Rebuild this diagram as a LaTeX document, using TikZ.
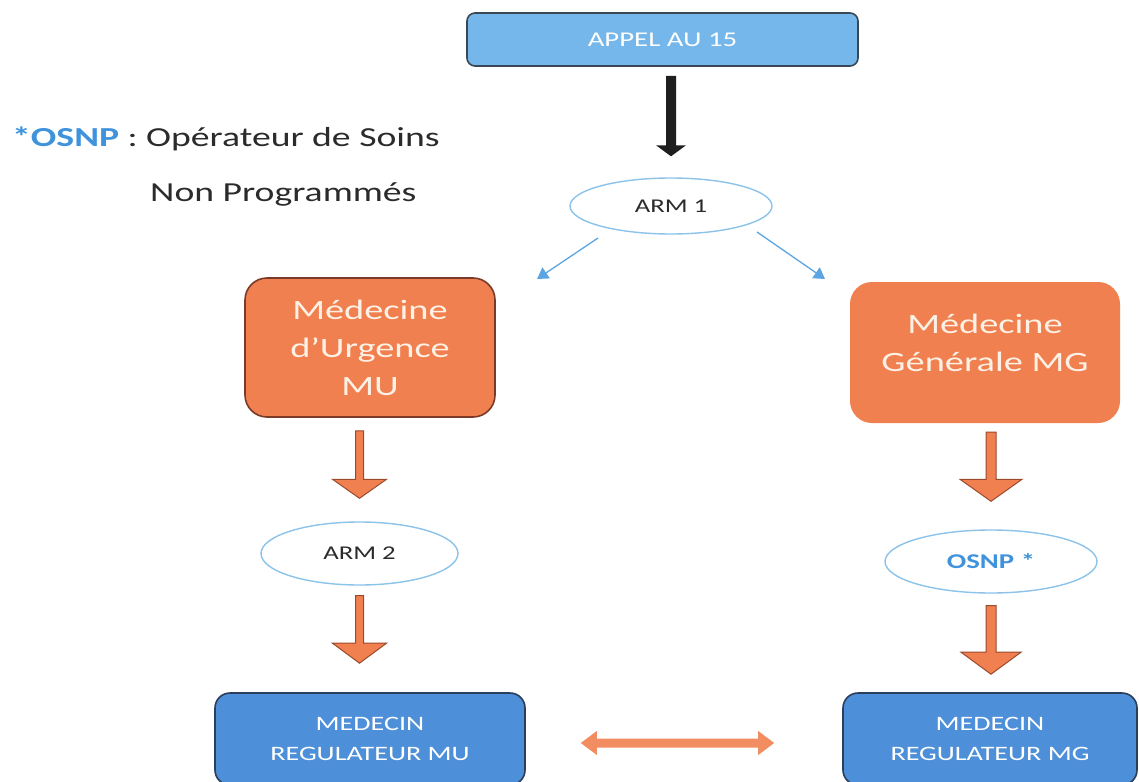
\documentclass[tikz,border=0pt]{standalone}
\usepackage{fontspec}
\setmainfont{Carlito}[FakeStretch=1.37]
\usetikzlibrary{shapes.geometric,calc,arrows.meta}
\definecolor{appelfill}{HTML}{75B7EA}
\definecolor{appeldraw}{HTML}{3A4855}
\definecolor{orfill}{HTML}{F0804F}
\definecolor{ordraw}{HTML}{7B3A28}
\definecolor{orline}{HTML}{9B4A2E}
\definecolor{botfill}{HTML}{4D8FD8}
\definecolor{botdraw}{HTML}{2B3E5C}
\definecolor{ellline}{HTML}{8CC3EA}
\definecolor{osnpblue}{HTML}{3F93DC}
\definecolor{cream}{HTML}{FDF1E6}
\definecolor{txt}{HTML}{2B2B2B}
\definecolor{thinblue}{HTML}{5BA6E2}
\newcommand\blockdown[6]{%
  \path[#1] let \p1=#2, \p2=#3 in
   (\x2-#4,\y1) -- (\x2-#4,\y2+#6) -- (\x2-#5,\y2+#6) -- (\x2,\y2) --
   (\x2+#5,\y2+#6) -- (\x2+#4,\y2+#6) -- (\x2+#4,\y1) -- cycle;}
\tikzset{
  bluebox/.style={rectangle, rounded corners=8pt, fill=appelfill, draw=appeldraw, line width=1.6pt, text=white, font=\fontsize{21}{24}\selectfont},
  orbox/.style={rectangle, rounded corners=22pt, fill=orfill, text=cream, align=center, font=\fontsize{28}{38}\selectfont},
  botbox/.style={rectangle, rounded corners=15pt, fill=botfill, draw=botdraw, line width=1.6pt, text=white, align=center, font=\fontsize{20.5}{30}\selectfont},
  ell/.style={ellipse, draw=ellline, line width=1.4pt, fill=white, text=txt, font=\fontsize{19.5}{22}\selectfont},
  orarrow/.style={fill=orfill, draw=orline, line width=1pt, line join=miter},
  blackarrow/.style={fill=black!88},
  thinarrow/.style={draw=thinblue, line width=1.3pt, -{Triangle[width=13pt,length=11pt]}},
  legend/.style={anchor=west, text=txt, font=\fontsize{27.5}{32}\selectfont, inner sep=0pt}
}
\begin{document}
\begin{tikzpicture}[x=1pt,y=-1pt]
\useasboundingbox (0,0) rectangle (1139,781);
\clip (0,0) rectangle (1139,781);
\fill[white] (0,0) rectangle (1139,781);

% nodes
\node[bluebox, minimum width=391pt, minimum height=53pt] (appel) at (662.5,39.5) {APPEL AU 15};
\node[ell, minimum width=202pt, minimum height=56pt] (arm1) at (671,206) {ARM 1};
\node[orbox, draw=ordraw, line width=1.6pt, minimum width=250pt, minimum height=139pt] (mu) at (370,347.5) {Médecine\\d’Urgence\\MU};
\node[orbox, text depth=20pt, minimum width=270pt, minimum height=141pt] (mg) at (985,352.5) {Médecine\\Générale MG};
\node[ell, minimum width=197pt, minimum height=63pt] (arm2) at (359.5,553.5) {ARM 2};
\node[ell, minimum width=212pt, minimum height=63pt, text=osnpblue, font=\fontsize{21}{22}\selectfont\bfseries] (osnp) at (991,561.5) {OSNP *};
\node[botbox, minimum width=310pt, minimum height=92pt] (bmu) at (370,739) {MEDECIN\\REGULATEUR MU};
\node[botbox, minimum width=294pt, minimum height=92pt] (bmg) at (990,739) {MEDECIN\\REGULATEUR MG};

% legend
\node[legend] (leg1) at (12,139) {{\bfseries\color{osnpblue}*OSNP} : Opérateur de Soins};
\node[legend] (leg2) at (150,194) {Non Programmés};

% free ends of the thin arrows
\coordinate (tipL) at (537,279);
\coordinate (tipR) at (825,279);

% connectors
\blockdown{blackarrow}{($(appel.south)+(0,9)$)}{($(arm1.north)+(0,-21)$)}{5pt}{15pt}{11pt}
\draw[thinarrow] ($(arm1.center)+(-73,32)$) -- (tipL);
\draw[thinarrow] ($(arm1.center)+(86,26)$) -- (tipR);
\blockdown{orarrow}{($(mu.south)+(0,13)$)}{($(arm2.north)+(0,-23)$)}{4pt}{27pt}{19pt}
\blockdown{orarrow}{($(arm2.south)+(0,10)$)}{($(bmu.north -| arm2.south)+(0,-29)$)}{4pt}{27pt}{20pt}
\blockdown{orarrow}{($(mg.south)+(0,9)$)}{($(osnp.north)+(0,-28)$)}{5pt}{31pt}{22pt}
\blockdown{orarrow}{($(osnp.south)+(0,12)$)}{($(bmg.north -| osnp.south)+(0,-18)$)}{5pt}{30pt}{22pt}
% double arrow between the two regulators
\path[fill=orfill!90!white] let \p1=($(bmu.east)+(55,4)$), \p2=($(bmg.west)+(-68,4)$) in
  (\x1,\y1) -- (\x1+16pt,\y1+12pt) -- (\x1+16pt,\y1+4.5pt) -- (\x2-16pt,\y1+4.5pt) -- (\x2-16pt,\y1+12pt) --
  (\x2,\y1) -- (\x2-16pt,\y1-12pt) -- (\x2-16pt,\y1-4.5pt) -- (\x1+16pt,\y1-4.5pt) -- (\x1+16pt,\y1-12pt) -- cycle;
\end{tikzpicture}
\end{document}
